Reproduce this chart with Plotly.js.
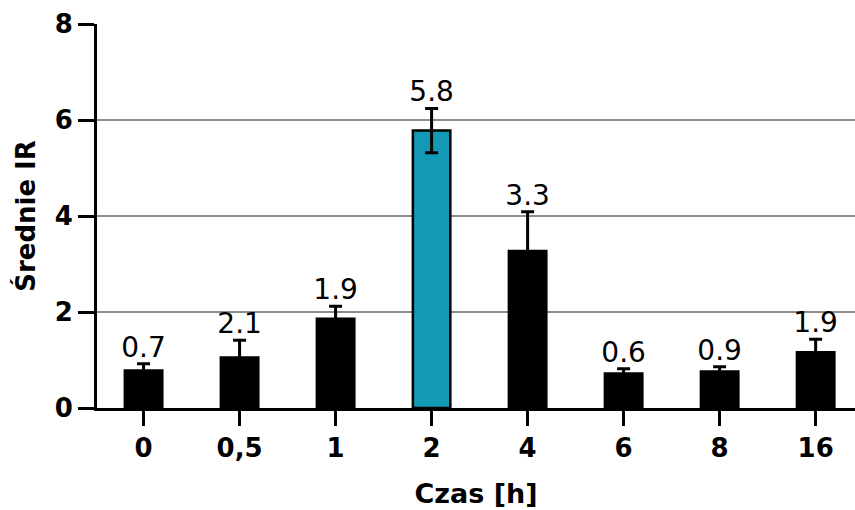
<!DOCTYPE html>
<html>
<head>
<meta charset="utf-8">
<script src="https://cdn.plot.ly/plotly-3.0.1.min.js"></script>
<style>html,body{margin:0;padding:0;background:#fff;}#chart{width:855px;height:510px;}</style>
</head>
<body>
<div id="chart"></div>
<script>
const categories = ['0', '0,5', '1', '2', '4', '6', '8', '16'];
const means = [0.78, 1.05, 1.86, 5.78, 3.27, 0.72, 0.76, 1.16];
const errors = [0.14, 0.36, 0.26, 0.46, 0.82, 0.10, 0.10, 0.27];
const labels = ['0.7', '2.1', '1.9', '5.8', '3.3', '0.6', '0.9', '1.9'];
const barColors = ['#000000', '#000000', '#000000', '#1499b5', '#000000', '#000000', '#000000', '#000000'];

const FONT = 'DejaVu Sans, Liberation Sans, Arial, sans-serif';

const bars = {
  type: 'bar',
  x: categories,
  y: means,
  width: 0.39,
  marker: {color: barColors, line: {color: '#000000', width: 2.5}},
  error_y: {type: 'data', array: errors, visible: true, color: '#000000', thickness: 3, width: 6.5},
  hoverinfo: 'skip',
  showlegend: false
};

const text = {
  type: 'scatter',
  mode: 'text',
  x: categories,
  y: means.map((m, i) => m + errors[i]),
  text: labels,
  textposition: 'top center',
  textfont: {family: FONT, size: 28, color: '#000000'},
  hoverinfo: 'skip',
  showlegend: false,
  cliponaxis: false
};

const layout = {
  width: 855,
  height: 510,
  margin: {l: 97, r: 0, t: 24, b: 102},
  paper_bgcolor: '#ffffff',
  plot_bgcolor: '#ffffff',
  font: {family: FONT, color: '#000000'},
  xaxis: {
    type: 'category',
    range: [-0.485, 7.41],
    showline: true, linecolor: '#000000', linewidth: 3,
    ticks: 'outside', ticklen: 15, tickwidth: 3, tickcolor: '#000000',
    tickfont: {family: FONT, size: 26, weight: 'bold', color: '#000000'},
    showgrid: false, zeroline: false,
    title: {text: 'Czas [h]', font: {family: FONT, size: 27, weight: 'bold', color: '#000000'}, standoff: 22}
  },
  yaxis: {
    range: [0, 8],
    tickvals: [0, 2, 4, 6, 8],
    showline: true, linecolor: '#000000', linewidth: 3,
    ticks: 'outside', ticklen: 16, tickwidth: 3, tickcolor: '#000000',
    tickfont: {family: FONT, size: 26, weight: 'bold', color: '#000000'},
    showgrid: true, gridcolor: '#8c8c8c', gridwidth: 1.5,
    zeroline: false,
    title: {text: 'Średnie IR', font: {family: FONT, size: 26, weight: 'bold', color: '#000000'}, standoff: 12}
  }
};

Plotly.newPlot('chart', [bars, text], layout, {displayModeBar: false, staticPlot: true});
</script>
</body>
</html>
